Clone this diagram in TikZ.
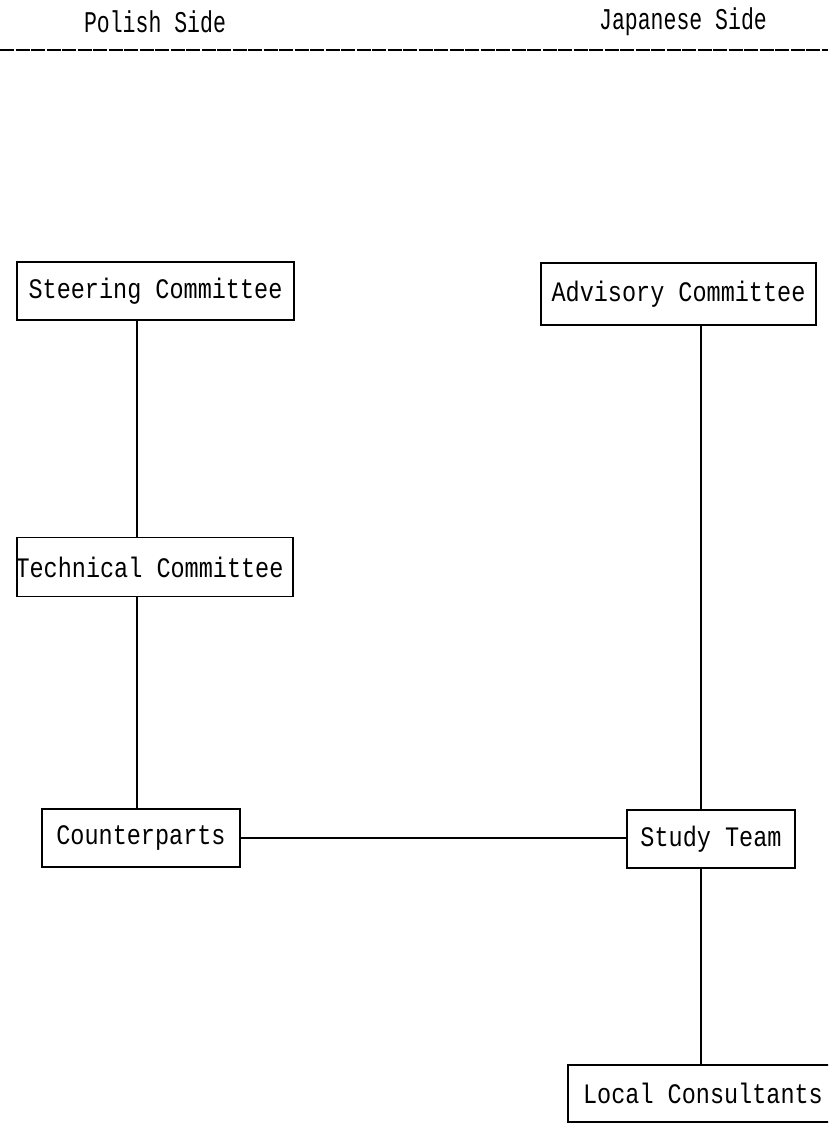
\documentclass[tikz,border=0pt]{standalone}
\usepackage{fontspec}
\usepackage{graphicx}
\setmonofont{Liberation Mono}
\newcommand{\boxfont}{\fontsize{23.5pt}{26pt}\ttfamily}
\newcommand{\headfont}{\fontsize{21.5pt}{24pt}\ttfamily}
\newcommand{\tall}[1]{\scalebox{1}[1.2]{#1}}
\newcommand{\taller}[1]{\scalebox{1}[1.4]{#1}}
\tikzset{
  orgbox/.style={draw=black, line width=1.7pt, rectangle, inner sep=0pt,
    font=\boxfont, text=black},
  link/.style={draw=black, line width=1.7pt},
  heading/.style={font=\headfont, text=black, inner sep=0pt},
}
\begin{document}
\begin{tikzpicture}[x=1pt, y=-1pt]
  \useasboundingbox (0,0) rectangle (828,1144);
  \clip (0,0) rectangle (828,1144);
  \fill[white] (0,0) rectangle (828,1144);

  % column headings and rule
  \node[heading] (polish) at (155,22) {\taller{Polish Side}};
  \node[heading] (japanese) at (683,22) {\taller{Japanese Side}};
  \coordinate (ruleL) at (0,50);
  \coordinate (ruleR) at (828,50);
  \draw[line width=1.2pt, dash pattern=on 14pt off 1.5pt] (ruleL) -- (ruleR);

  % Polish side
  \node[orgbox, minimum width=277, minimum height=58] (steer) at (155.5,291) {\tall{Steering Committee}};
  \node[orgbox, minimum width=276, minimum height=59] (tech) at (155,567) {\hspace*{-11pt}\tall{Technical Committee}};
  \node[orgbox, minimum width=198, minimum height=58] (counter) at (141,838) {\tall{Counterparts}};

  % Japanese side
  \node[orgbox, minimum width=275, minimum height=62] (advisory) at (678.5,294) {\tall{Advisory Committee}};
  \node[orgbox, minimum width=168, minimum height=58] (study) at (711,839) {\tall{Study Team}};
  \node[orgbox, minimum width=290, minimum height=57] (local) at (713,1093.5) {\hspace*{-20pt}\tall{Local Consultants}};

  % connectors
  \draw[link] (steer.south -| 137,0) -- (tech.north -| 137,0);
  \draw[link] (tech.south -| 137,0) -- (counter.north -| 137,0);
  \draw[link] (advisory.south -| 701,0) -- (study.north -| 701,0);
  \draw[link] (study.south -| 701,0) -- (local.north -| 701,0);
  \draw[link] (counter.east) -- (counter.east -| study.west);
\end{tikzpicture}
\end{document}
